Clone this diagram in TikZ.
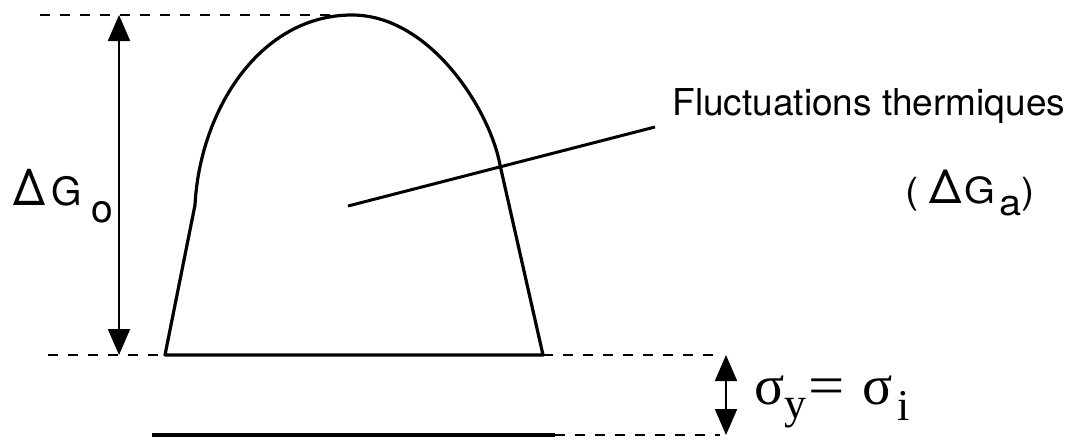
\documentclass[tikz,border=0pt]{standalone}
\usepackage{fontspec}
\usepackage{graphicx}
\setmainfont{TeX Gyre Heros}
\newfontfamily\timesfont{Liberation Serif}
\usetikzlibrary{arrows.meta}

\newcommand{\bigdelta}{\scalebox{1.15}[1.3]{Δ}}

\begin{document}
\begin{tikzpicture}[x=0.5pt,y=-0.5pt,
    level/.style={line width=1.2pt,dash pattern=on 5pt off 5pt},
    barrier/.style={line width=1.6pt,line join=round},
    dimarrow/.style={line width=1pt,{Triangle[length=13pt,width=11pt]}-{Triangle[length=13pt,width=11pt]}}]

  \useasboundingbox (0,0) rectangle (1080,439);

  % levels
  \coordinate (topL) at (40,15);
  \coordinate (top) at (350,15);
  \coordinate (midL) at (48,355);
  \coordinate (baseL) at (165,355);
  \coordinate (baseR) at (543,355);
  \coordinate (midR) at (720,355);
  \coordinate (lowL) at (152,435);
  \coordinate (lowR) at (555,435);
  \coordinate (lowE) at (720,435);

  \draw[level] (topL) -- (top);
  \draw[level] (midL) -- (baseL);
  \draw[level] (baseR) -- (midR);
  \draw[level] (lowR) -- (lowE);
  \draw[barrier] (lowL) -- (lowR);

  % barrier
  \draw[barrier] (baseL) -- (195,205)
    .. controls (200,110) and (260,15) .. (352,15)
    .. controls (430,15) and (490,110) .. (500,165)
    -- (baseR) -- cycle;

  % heights
  \coordinate (hTop) at (119,15);
  \coordinate (hBot) at (119,355);
  \draw[dimarrow] (hTop) -- (hBot);
  \coordinate (sTop) at (726,355);
  \coordinate (sBot) at (726,435);
  \draw[dimarrow] (sTop) -- (sBot);

  \node[anchor=base west,inner sep=0pt,font=\fontsize{19.5}{24}\selectfont]
    (dGo) at (13,205) {\bigdelta\hspace{3pt}G\hspace{5pt}\raisebox{-8.5pt}{o}};

  \node[anchor=base west,inner sep=0pt,font=\fontsize{18.5}{22}\selectfont]
    (fluct) at (672,115) {Fluctuations thermiques};
  \node[anchor=base west,inner sep=0pt,font=\fontsize{18}{22}\selectfont]
    (dGa) at (905,203) {\scalebox{1.1}[1]{(\hspace{5pt}\bigdelta\hspace{1pt}G\hspace{2pt}\raisebox{-6pt}{a})}};

  \coordinate (ptrIn) at (348,206);
  \coordinate (ptrOut) at (655,127);
  \draw[line width=1.5pt] (ptrIn) -- (ptrOut);

  \node[anchor=base west,inner sep=0pt,font=\timesfont\fontsize{28}{32}\selectfont]
    (sig) at (754,404) {σ\raisebox{-7pt}{\fontsize{22}{24}\selectfont y}\hspace{1pt}\scalebox{1.15}[1]{=}\hspace{9pt}σ\hspace{2pt}\raisebox{-8pt}{\fontsize{22}{24}\selectfont i}};

\end{tikzpicture}
\end{document}
